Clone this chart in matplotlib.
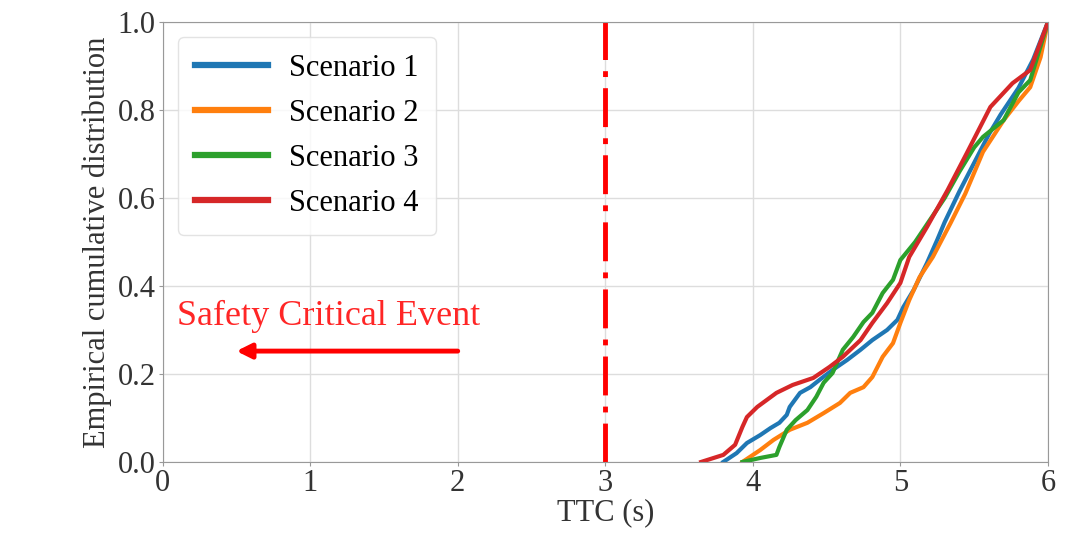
import numpy as np
import matplotlib
matplotlib.use("Agg")
import matplotlib.pyplot as plt

plt.rcParams['font.family'] = ['Liberation Serif', 'DejaVu Serif']

# Datos (TTC en s, distribucion acumulada)
ttc_s1 = [3.80, 3.89, 3.96, 4.05, 4.12, 4.18, 4.23, 4.25, 4.32, 4.39, 4.45, 4.54,
          4.64, 4.73, 4.81, 4.91, 4.98, 5.02, 5.09, 5.18, 5.25, 5.30, 5.40, 5.50,
          5.60, 5.68, 5.80, 5.90, 6.00]
cdf_s1 = [0.000, 0.020, 0.043, 0.061, 0.077, 0.089, 0.107, 0.125, 0.157, 0.170, 0.186, 0.209,
          0.232, 0.255, 0.277, 0.300, 0.323, 0.352, 0.391, 0.452, 0.505, 0.545, 0.615, 0.680,
          0.745, 0.790, 0.850, 0.915, 1.000]

ttc_s2 = [3.93, 4.05, 4.14, 4.25, 4.37, 4.48, 4.59, 4.66, 4.75, 4.81, 4.88, 4.95,
          5.00, 5.06, 5.13, 5.22, 5.34, 5.44, 5.56, 5.70, 5.80, 5.88, 5.95, 6.00]
cdf_s2 = [0.000, 0.027, 0.050, 0.073, 0.089, 0.111, 0.134, 0.157, 0.170, 0.193, 0.239, 0.270,
          0.316, 0.368, 0.420, 0.466, 0.543, 0.610, 0.705, 0.777, 0.820, 0.852, 0.920, 1.000]

ttc_s3 = [3.93, 4.05, 4.16, 4.18, 4.23, 4.29, 4.37, 4.43, 4.48, 4.54, 4.61, 4.68,
          4.75, 4.81, 4.88, 4.95, 5.00, 5.10, 5.20, 5.30, 5.40, 5.50, 5.56, 5.70,
          5.80, 5.88, 6.00]
cdf_s3 = [0.000, 0.009, 0.016, 0.034, 0.073, 0.095, 0.118, 0.148, 0.180, 0.202, 0.255, 0.284,
          0.318, 0.339, 0.384, 0.414, 0.459, 0.500, 0.550, 0.600, 0.660, 0.715, 0.739, 0.777,
          0.840, 0.868, 1.000]

ttc_s4 = [3.65, 3.80, 3.88, 3.93, 3.96, 4.03, 4.16, 4.27, 4.41, 4.52, 4.61, 4.73,
          4.81, 4.91, 5.00, 5.06, 5.18, 5.32, 5.45, 5.61, 5.76, 5.88, 6.00]
cdf_s4 = [0.000, 0.016, 0.039, 0.080, 0.102, 0.125, 0.157, 0.175, 0.191, 0.216, 0.239, 0.277,
          0.316, 0.361, 0.407, 0.466, 0.534, 0.618, 0.702, 0.807, 0.861, 0.891, 1.000]

series = [(ttc_s1, cdf_s1, 'Scenario 1', 'tab:blue'),
          (ttc_s2, cdf_s2, 'Scenario 2', 'tab:orange'),
          (ttc_s3, cdf_s3, 'Scenario 3', 'tab:green'),
          (ttc_s4, cdf_s4, 'Scenario 4', 'tab:red')]

umbral_ttc = 3.0

fig = plt.figure(figsize=(10.77, 5.39), dpi=100)
ax = fig.add_axes([0.151, 0.143, 0.822, 0.816])

for x, y, lab, col in series:
    ax.plot(x, y, color=col, linewidth=3, label=lab)

ax.axvline(umbral_ttc, color='red', linestyle=(0, (8, 2.3, 1.2, 2.3)), linewidth=3.5)

ax.text(0.1, 0.33, 'Safety Critical Event', color='red', fontsize=26,
        va='center', ha='left', alpha=0.85)
ax.annotate('', xy=(0.5, 0.252), xytext=(2.0, 0.252),
            arrowprops=dict(arrowstyle='-|>', color='red', lw=3.5,
                            mutation_scale=22, shrinkA=0, shrinkB=0))

ax.set_xlim(0, 6)
ax.set_ylim(0, 1)
ax.set_xticks([0, 1, 2, 3, 4, 5, 6])
ax.set_yticks([0.0, 0.2, 0.4, 0.6, 0.8, 1.0])
ax.tick_params(labelsize=22, colors='#333333', length=3, color='#999999', pad=2)
ax.grid(True, color='#dddddd', linewidth=1)
for sp in ax.spines.values():
    sp.set_color('#999999')

ax.set_xlabel('TTC (s)', fontsize=22, color='#333333', labelpad=0)
ax.set_ylabel('Empirical cumulative distribution', fontsize=22, color='#333333', labelpad=4)

leg = ax.legend(loc='upper left', fontsize=22, handlelength=2.4, labelspacing=0.52,
                borderpad=0.55, handletextpad=0.7, framealpha=0.8, edgecolor='#dddddd')
for h in leg.get_lines():
    h.set_linewidth(4.5)

fig.savefig('out.png', dpi=100)
